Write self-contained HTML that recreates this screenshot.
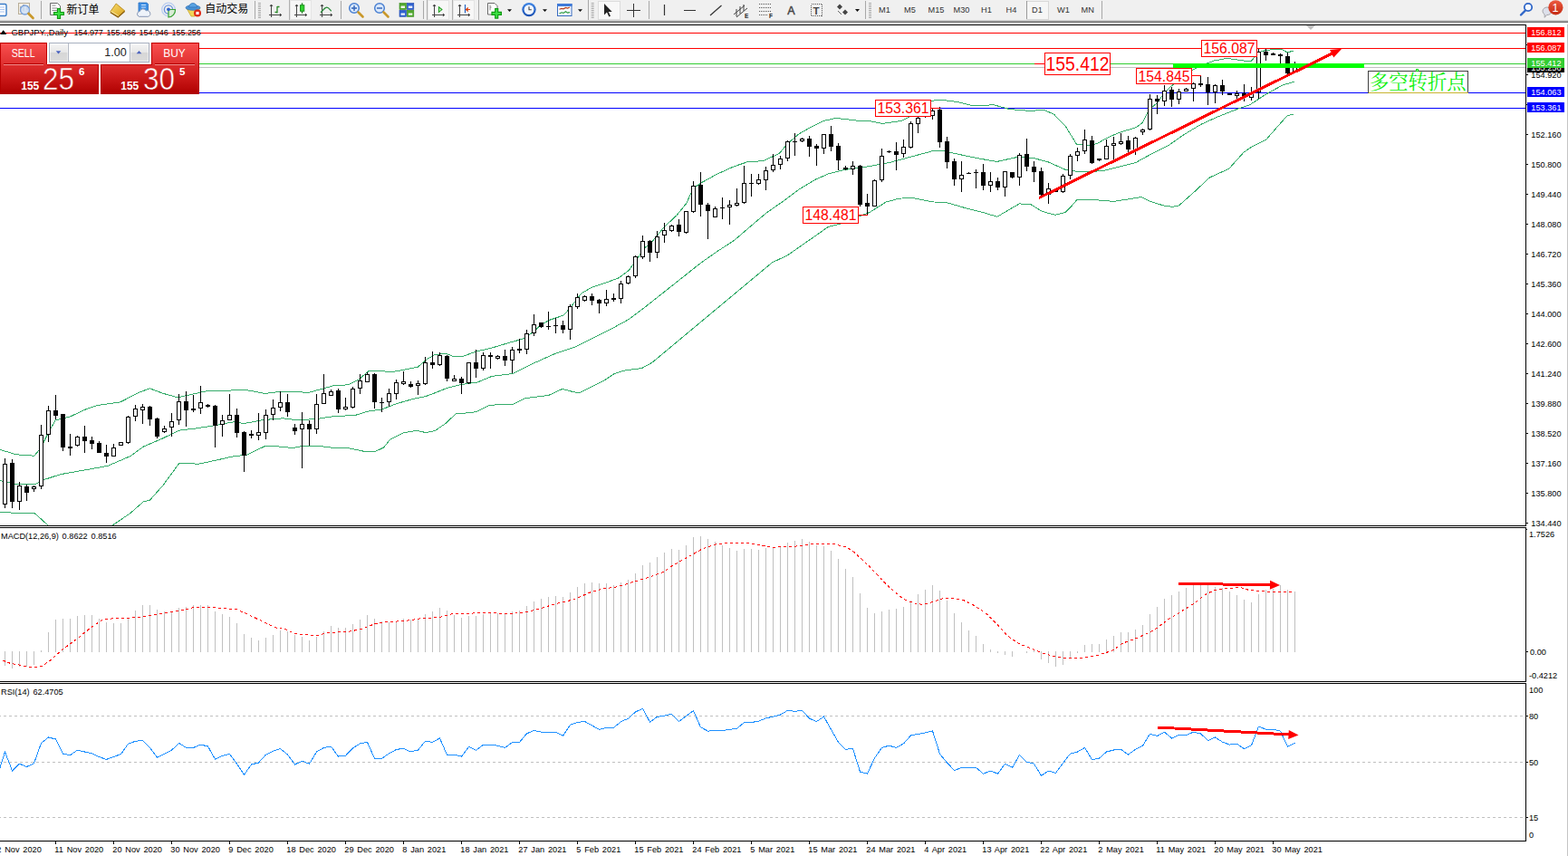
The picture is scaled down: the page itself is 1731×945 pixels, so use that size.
<!DOCTYPE html>
<html><head><meta charset="utf-8"><title>GBPJPY Daily</title>
<style>
html,body{margin:0;padding:0;}
body{width:1731px;height:945px;overflow:hidden;background:#fff;position:relative;font-family:"Liberation Sans",sans-serif;}
</style></head><body>
<svg width="1731" height="945" viewBox="0 0 1731 945" style="position:absolute;left:0;top:0"><defs><clipPath id="cm"><rect x="0" y="28" width="1684" height="552"/></clipPath><clipPath id="cd"><rect x="0" y="583" width="1684" height="169"/></clipPath><clipPath id="cr"><rect x="0" y="755" width="1684" height="173"/></clipPath><clipPath id="ca"><rect x="0" y="929" width="1684" height="16"/></clipPath></defs><g clip-path="url(#cm)" shape-rendering="crispEdges"><rect x="0" y="36" width="1684" height="1" fill="#ff0000"/><rect x="0" y="53" width="1684" height="1" fill="#ff0000"/><rect x="0" y="70" width="1684" height="1" fill="#32cd32"/><rect x="0" y="74" width="1684" height="1" fill="#c0c0c0"/><rect x="0" y="102" width="1684" height="1" fill="#0000ff"/><rect x="0" y="119" width="1684" height="1" fill="#0000ff"/><polyline points="0,496.4 18,501.8 37.8,503.2 45,494.6 54,476.6 61.2,464 77.4,460 93.6,452.3 108,447.4 133.1,443.8 152.9,433.4 165.5,428.9 179.9,434.3 196.1,438.8 212.3,435.2 228.5,431.6 240,431.7 270.6,430.3 292.2,434.4 312,432.1 340.8,433.3 357,429 369.5,425.4 383.9,424.9 396.5,418.6 407.3,409.2 419.9,409.2 430.7,411 446.9,408.1 461.3,405.1 472.1,396.1 480,391.5 492.6,390.3 501.6,393.9 509.7,393.9 525,388.2 541.2,384.6 559.2,379.2 577.2,374.1 588,367 597,358.9 606,353.5 622.1,348.1 629.3,340 642,323.8 652.7,317.5 669,312.1 683.3,306.7 694.1,298.6 701.3,288.7 712.1,273.4 720,266.8 732.6,251.3 747,237.8 757.8,224.4 765,208.2 774,201.9 792,192 810,183.9 824.4,179 842.3,177.6 860.3,169.5 869.3,158.7 881.9,147.9 896.3,139.8 908.9,133.5 923.3,130.4 944.9,133 960,133.6 974.4,136.4 996,133.2 1012.2,125.1 1028.4,111.2 1039.2,110.3 1057.2,112.5 1075.2,117 1096.7,115.7 1114.7,120.6 1136.3,122.4 1152.5,121.5 1163.3,126 1175.9,138.6 1188.5,159.3 1200,160.6 1210.8,158.7 1221.6,152.5 1236,146.2 1254,140.8 1261.2,135.4 1268.4,121 1277.4,113.8 1286.4,101.2 1295.4,93.1 1315.2,77.8 1326,72.4 1340.3,67 1354.7,64.3 1372.7,67 1381.7,67 1388.9,58 1397.9,55.3 1414.1,54 1421.3,58 1428.5,55.8" fill="none" stroke="#34ac6a" stroke-width="1" /><polyline points="0,530.5 16.2,534.1 37.8,535 48.6,529.6 66.6,523.7 93.6,518.9 118.7,514.4 143.9,503.6 158.3,493.1 179.9,483.8 197.9,475.1 215.9,473 240,469.2 259.8,465.4 268.8,467.7 290.4,463.6 312,461.8 326.4,463.6 348,462.7 366,460 392.9,458.2 405.5,454.2 421.7,451.9 437.9,445.6 455.9,440.5 470.3,437.5 480,433.8 494,428.2 509.1,424.5 526.6,422.2 542.9,415.4 566.1,412.5 588.3,401.4 613.1,390.3 634.7,383.1 652.7,374.1 674.3,363.4 694.1,352.6 708.5,341.8 720,332.8 774,290 792,277.4 810,265.7 828,250.4 846,235.1 864,222.6 881.9,209.1 899.9,198.3 914.3,192 932.3,187.5 960,183.6 983.4,179.1 1006.8,172.8 1028.4,167 1041,166.5 1057.2,170.1 1078.7,174.6 1100.3,178.5 1121.9,173.7 1139.9,174.2 1157.9,179.1 1175.9,187.2 1188.5,189.3 1200,190 1218,188.4 1236,183.9 1254,179.4 1272,169.5 1290,160.5 1308,148 1326,137.2 1343.9,129.1 1361.9,121.9 1379.9,115.6 1397.9,103.9 1415.9,94 1428.5,90.4" fill="none" stroke="#34ac6a" stroke-width="1" /><polyline points="0,565.1 18,566.5 37.8,566.2 53.1,580 56,590 120,590 124.1,580 143.9,566.5 158.3,553.9 165.5,552.1 179.9,535.9 197.9,511.3 219.5,512.2 240,507.8 258,503.7 272.4,502.2 292.2,492.7 306.6,492.9 322.8,494.5 335.4,492.3 351.6,492.3 366,494.1 383.9,494.5 401.9,498.3 414.5,498.3 423.5,494.1 430.7,485.1 445.1,478 459.5,475.3 470.3,477.6 480,475.6 491.6,467.8 503.3,456.7 520.7,455.6 526.6,454.1 540.5,447.2 566.1,446.3 580.1,439.6 605.7,436.4 620.9,429.4 633.7,432.9 640,433.4 667.1,420 677.9,412.8 688.7,409.2 708.5,406.5 720,400.2 852.2,290 869.3,281.9 887.3,269.3 901.7,259.4 914.3,250.4 928.7,246.8 945,240 960,234.5 978,223.1 992.4,219.2 1006.8,218.3 1028.4,222.8 1046.4,224 1067.9,230.3 1085.9,234.8 1100.9,239.3 1112.9,232.1 1125.5,224.9 1138.1,225.8 1150.7,233.5 1165.1,237.3 1175.8,234.6 1183,227.4 1189.2,220.3 1208,220.6 1229.5,222.4 1260,217.6 1268.9,222.1 1285,227.1 1294,228.3 1301.2,227.1 1319.1,211.3 1335.2,196.1 1356.7,186.3 1372.8,168.4 1381.8,162.1 1397.9,154 1410.4,139.7 1421.2,127.5 1428.3,126.3" fill="none" stroke="#34ac6a" stroke-width="1" /><rect x="5" y="506" width="1" height="55" fill="#000"/><rect x="3" y="512" width="5" height="45" fill="#000"/><rect x="4" y="513" width="3" height="43" fill="#fff"/><rect x="13" y="507" width="1" height="54" fill="#000"/><rect x="11" y="511" width="5" height="43" fill="#000"/><rect x="21" y="532" width="1" height="31" fill="#000"/><rect x="19" y="536" width="5" height="18" fill="#000"/><rect x="20" y="537" width="3" height="16" fill="#fff"/><rect x="29" y="535" width="1" height="18" fill="#000"/><rect x="27" y="537" width="5" height="7" fill="#000"/><rect x="37" y="536" width="1" height="7" fill="#000"/><rect x="35" y="537" width="5" height="3" fill="#000"/><rect x="36" y="538" width="3" height="1" fill="#fff"/><rect x="45" y="469" width="1" height="71" fill="#000"/><rect x="43" y="480" width="5" height="57" fill="#000"/><rect x="44" y="481" width="3" height="55" fill="#fff"/><rect x="53" y="448" width="1" height="40" fill="#000"/><rect x="51" y="453" width="5" height="27" fill="#000"/><rect x="52" y="454" width="3" height="25" fill="#fff"/><rect x="61" y="436" width="1" height="27" fill="#000"/><rect x="59" y="453" width="5" height="6" fill="#000"/><rect x="69" y="457" width="1" height="41" fill="#000"/><rect x="67" y="457" width="5" height="37" fill="#000"/><rect x="77" y="479" width="1" height="24" fill="#000"/><rect x="75" y="493" width="5" height="2" fill="#000"/><rect x="85" y="481" width="1" height="12" fill="#000"/><rect x="83" y="482" width="5" height="10" fill="#000"/><rect x="84" y="483" width="3" height="8" fill="#fff"/><rect x="93" y="470" width="1" height="30" fill="#000"/><rect x="91" y="482" width="5" height="5" fill="#000"/><rect x="101" y="482" width="1" height="14" fill="#000"/><rect x="99" y="486" width="5" height="4" fill="#000"/><rect x="109" y="487" width="1" height="13" fill="#000"/><rect x="107" y="489" width="5" height="11" fill="#000"/><rect x="117" y="491" width="1" height="20" fill="#000"/><rect x="115" y="500" width="5" height="4" fill="#000"/><rect x="125" y="490" width="1" height="14" fill="#000"/><rect x="123" y="494" width="5" height="10" fill="#000"/><rect x="124" y="495" width="3" height="8" fill="#fff"/><rect x="133" y="488" width="1" height="4" fill="#000"/><rect x="131" y="488" width="5" height="4" fill="#000"/><rect x="132" y="489" width="3" height="2" fill="#fff"/><rect x="141" y="459" width="1" height="31" fill="#000"/><rect x="139" y="460" width="5" height="29" fill="#000"/><rect x="140" y="461" width="3" height="27" fill="#fff"/><rect x="149" y="447" width="1" height="18" fill="#000"/><rect x="147" y="451" width="5" height="9" fill="#000"/><rect x="148" y="452" width="3" height="7" fill="#fff"/><rect x="157" y="446" width="1" height="22" fill="#000"/><rect x="155" y="449" width="5" height="4" fill="#000"/><rect x="156" y="450" width="3" height="2" fill="#fff"/><rect x="165" y="448" width="1" height="22" fill="#000"/><rect x="163" y="449" width="5" height="14" fill="#000"/><rect x="173" y="461" width="1" height="23" fill="#000"/><rect x="171" y="462" width="5" height="20" fill="#000"/><rect x="181" y="470" width="1" height="8" fill="#000"/><rect x="179" y="473" width="5" height="4" fill="#000"/><rect x="180" y="474" width="3" height="2" fill="#fff"/><rect x="189" y="456" width="1" height="26" fill="#000"/><rect x="187" y="465" width="5" height="7" fill="#000"/><rect x="188" y="466" width="3" height="5" fill="#fff"/><rect x="197" y="435" width="1" height="34" fill="#000"/><rect x="195" y="443" width="5" height="21" fill="#000"/><rect x="196" y="444" width="3" height="19" fill="#fff"/><rect x="205" y="432" width="1" height="39" fill="#000"/><rect x="203" y="443" width="5" height="10" fill="#000"/><rect x="213" y="436" width="1" height="19" fill="#000"/><rect x="211" y="451" width="5" height="2" fill="#000"/><rect x="221" y="426" width="1" height="31" fill="#000"/><rect x="219" y="444" width="5" height="7" fill="#000"/><rect x="220" y="445" width="3" height="5" fill="#fff"/><rect x="229" y="446" width="1" height="4" fill="#000"/><rect x="227" y="447" width="5" height="2" fill="#000"/><rect x="237" y="447" width="1" height="47" fill="#000"/><rect x="235" y="448" width="5" height="22" fill="#000"/><rect x="245" y="458" width="1" height="24" fill="#000"/><rect x="243" y="464" width="5" height="5" fill="#000"/><rect x="244" y="465" width="3" height="3" fill="#fff"/><rect x="253" y="435" width="1" height="29" fill="#000"/><rect x="251" y="458" width="5" height="6" fill="#000"/><rect x="252" y="459" width="3" height="4" fill="#fff"/><rect x="261" y="451" width="1" height="32" fill="#000"/><rect x="259" y="458" width="5" height="20" fill="#000"/><rect x="269" y="476" width="1" height="45" fill="#000"/><rect x="267" y="477" width="5" height="26" fill="#000"/><rect x="277" y="475" width="1" height="9" fill="#000"/><rect x="275" y="479" width="5" height="2" fill="#000"/><rect x="285" y="456" width="1" height="30" fill="#000"/><rect x="283" y="477" width="5" height="4" fill="#000"/><rect x="284" y="478" width="3" height="2" fill="#fff"/><rect x="293" y="452" width="1" height="33" fill="#000"/><rect x="291" y="458" width="5" height="20" fill="#000"/><rect x="292" y="459" width="3" height="18" fill="#fff"/><rect x="301" y="441" width="1" height="23" fill="#000"/><rect x="299" y="450" width="5" height="8" fill="#000"/><rect x="300" y="451" width="3" height="6" fill="#fff"/><rect x="309" y="432" width="1" height="22" fill="#000"/><rect x="307" y="444" width="5" height="6" fill="#000"/><rect x="308" y="445" width="3" height="4" fill="#fff"/><rect x="317" y="435" width="1" height="25" fill="#000"/><rect x="315" y="444" width="5" height="11" fill="#000"/><rect x="325" y="468" width="1" height="12" fill="#000"/><rect x="323" y="472" width="5" height="4" fill="#000"/><rect x="333" y="455" width="1" height="62" fill="#000"/><rect x="331" y="468" width="5" height="6" fill="#000"/><rect x="332" y="469" width="3" height="4" fill="#fff"/><rect x="341" y="464" width="1" height="28" fill="#000"/><rect x="339" y="468" width="5" height="6" fill="#000"/><rect x="349" y="435" width="1" height="44" fill="#000"/><rect x="347" y="446" width="5" height="28" fill="#000"/><rect x="348" y="447" width="3" height="26" fill="#fff"/><rect x="357" y="413" width="1" height="33" fill="#000"/><rect x="355" y="434" width="5" height="12" fill="#000"/><rect x="356" y="435" width="3" height="10" fill="#fff"/><rect x="365" y="430" width="1" height="7" fill="#000"/><rect x="363" y="432" width="5" height="5" fill="#000"/><rect x="364" y="433" width="3" height="3" fill="#fff"/><rect x="373" y="429" width="1" height="27" fill="#000"/><rect x="371" y="431" width="5" height="21" fill="#000"/><rect x="381" y="439" width="1" height="14" fill="#000"/><rect x="379" y="449" width="5" height="3" fill="#000"/><rect x="380" y="450" width="3" height="1" fill="#fff"/><rect x="389" y="427" width="1" height="24" fill="#000"/><rect x="387" y="429" width="5" height="21" fill="#000"/><rect x="388" y="430" width="3" height="19" fill="#fff"/><rect x="397" y="413" width="1" height="22" fill="#000"/><rect x="395" y="420" width="5" height="9" fill="#000"/><rect x="396" y="421" width="3" height="7" fill="#fff"/><rect x="405" y="411" width="1" height="11" fill="#000"/><rect x="403" y="413" width="5" height="9" fill="#000"/><rect x="404" y="414" width="3" height="7" fill="#fff"/><rect x="413" y="412" width="1" height="39" fill="#000"/><rect x="411" y="413" width="5" height="31" fill="#000"/><rect x="421" y="439" width="1" height="16" fill="#000"/><rect x="419" y="444" width="5" height="1" fill="#000"/><rect x="429" y="429" width="1" height="20" fill="#000"/><rect x="427" y="434" width="5" height="10" fill="#000"/><rect x="428" y="435" width="3" height="8" fill="#fff"/><rect x="437" y="419" width="1" height="22" fill="#000"/><rect x="435" y="422" width="5" height="13" fill="#000"/><rect x="436" y="423" width="3" height="11" fill="#fff"/><rect x="445" y="410" width="1" height="15" fill="#000"/><rect x="443" y="421" width="5" height="3" fill="#000"/><rect x="444" y="422" width="3" height="1" fill="#fff"/><rect x="453" y="421" width="1" height="7" fill="#000"/><rect x="451" y="424" width="5" height="3" fill="#000"/><rect x="461" y="420" width="1" height="16" fill="#000"/><rect x="459" y="423" width="5" height="3" fill="#000"/><rect x="460" y="424" width="3" height="1" fill="#fff"/><rect x="469" y="394" width="1" height="31" fill="#000"/><rect x="467" y="400" width="5" height="24" fill="#000"/><rect x="468" y="401" width="3" height="22" fill="#fff"/><rect x="477" y="388" width="1" height="19" fill="#000"/><rect x="475" y="400" width="5" height="3" fill="#000"/><rect x="485" y="389" width="1" height="15" fill="#000"/><rect x="483" y="392" width="5" height="11" fill="#000"/><rect x="484" y="393" width="3" height="9" fill="#fff"/><rect x="493" y="392" width="1" height="29" fill="#000"/><rect x="491" y="393" width="5" height="25" fill="#000"/><rect x="501" y="414" width="1" height="7" fill="#000"/><rect x="499" y="418" width="5" height="3" fill="#000"/><rect x="500" y="419" width="3" height="1" fill="#fff"/><rect x="509" y="416" width="1" height="19" fill="#000"/><rect x="507" y="418" width="5" height="5" fill="#000"/><rect x="517" y="400" width="1" height="24" fill="#000"/><rect x="515" y="400" width="5" height="23" fill="#000"/><rect x="516" y="401" width="3" height="21" fill="#fff"/><rect x="525" y="386" width="1" height="31" fill="#000"/><rect x="523" y="400" width="5" height="7" fill="#000"/><rect x="533" y="389" width="1" height="20" fill="#000"/><rect x="531" y="392" width="5" height="15" fill="#000"/><rect x="532" y="393" width="3" height="13" fill="#fff"/><rect x="541" y="389" width="1" height="18" fill="#000"/><rect x="539" y="392" width="5" height="2" fill="#000"/><rect x="549" y="392" width="1" height="5" fill="#000"/><rect x="547" y="393" width="5" height="3" fill="#000"/><rect x="548" y="394" width="3" height="1" fill="#fff"/><rect x="557" y="386" width="1" height="18" fill="#000"/><rect x="555" y="393" width="5" height="5" fill="#000"/><rect x="565" y="383" width="1" height="29" fill="#000"/><rect x="563" y="386" width="5" height="12" fill="#000"/><rect x="564" y="387" width="3" height="10" fill="#fff"/><rect x="573" y="374" width="1" height="16" fill="#000"/><rect x="571" y="385" width="5" height="2" fill="#000"/><rect x="581" y="364" width="1" height="27" fill="#000"/><rect x="579" y="368" width="5" height="18" fill="#000"/><rect x="580" y="369" width="3" height="16" fill="#fff"/><rect x="589" y="347" width="1" height="24" fill="#000"/><rect x="587" y="358" width="5" height="10" fill="#000"/><rect x="588" y="359" width="3" height="8" fill="#fff"/><rect x="597" y="356" width="1" height="6" fill="#000"/><rect x="595" y="356" width="5" height="5" fill="#000"/><rect x="605" y="344" width="1" height="20" fill="#000"/><rect x="603" y="360" width="5" height="1" fill="#000"/><rect x="613" y="351" width="1" height="17" fill="#000"/><rect x="611" y="359" width="5" height="1" fill="#000"/><rect x="621" y="354" width="1" height="14" fill="#000"/><rect x="619" y="359" width="5" height="5" fill="#000"/><rect x="629" y="336" width="1" height="39" fill="#000"/><rect x="627" y="338" width="5" height="26" fill="#000"/><rect x="628" y="339" width="3" height="24" fill="#fff"/><rect x="637" y="324" width="1" height="17" fill="#000"/><rect x="635" y="328" width="5" height="11" fill="#000"/><rect x="636" y="329" width="3" height="9" fill="#fff"/><rect x="645" y="326" width="1" height="7" fill="#000"/><rect x="643" y="327" width="5" height="5" fill="#000"/><rect x="644" y="328" width="3" height="3" fill="#fff"/><rect x="653" y="324" width="1" height="13" fill="#000"/><rect x="651" y="327" width="5" height="5" fill="#000"/><rect x="661" y="330" width="1" height="16" fill="#000"/><rect x="659" y="331" width="5" height="4" fill="#000"/><rect x="669" y="320" width="1" height="18" fill="#000"/><rect x="667" y="330" width="5" height="5" fill="#000"/><rect x="668" y="331" width="3" height="3" fill="#fff"/><rect x="677" y="324" width="1" height="9" fill="#000"/><rect x="675" y="329" width="5" height="2" fill="#000"/><rect x="685" y="310" width="1" height="25" fill="#000"/><rect x="683" y="313" width="5" height="17" fill="#000"/><rect x="684" y="314" width="3" height="15" fill="#fff"/><rect x="693" y="304" width="1" height="10" fill="#000"/><rect x="691" y="305" width="5" height="8" fill="#000"/><rect x="692" y="306" width="3" height="6" fill="#fff"/><rect x="701" y="282" width="1" height="25" fill="#000"/><rect x="699" y="283" width="5" height="22" fill="#000"/><rect x="700" y="284" width="3" height="20" fill="#fff"/><rect x="709" y="260" width="1" height="26" fill="#000"/><rect x="707" y="266" width="5" height="18" fill="#000"/><rect x="708" y="267" width="3" height="16" fill="#fff"/><rect x="717" y="265" width="1" height="24" fill="#000"/><rect x="715" y="266" width="5" height="13" fill="#000"/><rect x="725" y="255" width="1" height="30" fill="#000"/><rect x="723" y="261" width="5" height="18" fill="#000"/><rect x="724" y="262" width="3" height="16" fill="#fff"/><rect x="733" y="246" width="1" height="22" fill="#000"/><rect x="731" y="254" width="5" height="6" fill="#000"/><rect x="732" y="255" width="3" height="4" fill="#fff"/><rect x="741" y="248" width="1" height="8" fill="#000"/><rect x="739" y="249" width="5" height="6" fill="#000"/><rect x="740" y="250" width="3" height="4" fill="#fff"/><rect x="749" y="242" width="1" height="19" fill="#000"/><rect x="747" y="248" width="5" height="8" fill="#000"/><rect x="757" y="233" width="1" height="25" fill="#000"/><rect x="755" y="233" width="5" height="24" fill="#000"/><rect x="756" y="234" width="3" height="22" fill="#fff"/><rect x="765" y="200" width="1" height="35" fill="#000"/><rect x="763" y="205" width="5" height="29" fill="#000"/><rect x="764" y="206" width="3" height="27" fill="#fff"/><rect x="773" y="190" width="1" height="49" fill="#000"/><rect x="771" y="204" width="5" height="22" fill="#000"/><rect x="781" y="224" width="1" height="40" fill="#000"/><rect x="779" y="226" width="5" height="7" fill="#000"/><rect x="789" y="228" width="1" height="12" fill="#000"/><rect x="787" y="230" width="5" height="10" fill="#000"/><rect x="788" y="231" width="3" height="8" fill="#fff"/><rect x="797" y="218" width="1" height="24" fill="#000"/><rect x="795" y="229" width="5" height="1" fill="#000"/><rect x="805" y="221" width="1" height="27" fill="#000"/><rect x="803" y="226" width="5" height="3" fill="#000"/><rect x="804" y="227" width="3" height="1" fill="#fff"/><rect x="813" y="208" width="1" height="20" fill="#000"/><rect x="811" y="224" width="5" height="3" fill="#000"/><rect x="812" y="225" width="3" height="1" fill="#fff"/><rect x="821" y="183" width="1" height="42" fill="#000"/><rect x="819" y="202" width="5" height="22" fill="#000"/><rect x="820" y="203" width="3" height="20" fill="#fff"/><rect x="829" y="192" width="1" height="25" fill="#000"/><rect x="827" y="202" width="5" height="1" fill="#000"/><rect x="837" y="192" width="1" height="12" fill="#000"/><rect x="835" y="198" width="5" height="5" fill="#000"/><rect x="836" y="199" width="3" height="3" fill="#fff"/><rect x="845" y="184" width="1" height="26" fill="#000"/><rect x="843" y="188" width="5" height="11" fill="#000"/><rect x="844" y="189" width="3" height="9" fill="#fff"/><rect x="853" y="170" width="1" height="20" fill="#000"/><rect x="851" y="182" width="5" height="6" fill="#000"/><rect x="852" y="183" width="3" height="4" fill="#fff"/><rect x="861" y="172" width="1" height="15" fill="#000"/><rect x="859" y="175" width="5" height="7" fill="#000"/><rect x="860" y="176" width="3" height="5" fill="#fff"/><rect x="869" y="155" width="1" height="23" fill="#000"/><rect x="867" y="156" width="5" height="19" fill="#000"/><rect x="868" y="157" width="3" height="17" fill="#fff"/><rect x="877" y="147" width="1" height="25" fill="#000"/><rect x="875" y="156" width="5" height="1" fill="#000"/><rect x="885" y="152" width="1" height="5" fill="#000"/><rect x="883" y="153" width="5" height="3" fill="#000"/><rect x="884" y="154" width="3" height="1" fill="#fff"/><rect x="893" y="150" width="1" height="23" fill="#000"/><rect x="891" y="153" width="5" height="9" fill="#000"/><rect x="901" y="159" width="1" height="24" fill="#000"/><rect x="899" y="161" width="5" height="3" fill="#000"/><rect x="909" y="148" width="1" height="22" fill="#000"/><rect x="907" y="148" width="5" height="16" fill="#000"/><rect x="908" y="149" width="3" height="14" fill="#fff"/><rect x="917" y="139" width="1" height="28" fill="#000"/><rect x="915" y="148" width="5" height="14" fill="#000"/><rect x="925" y="158" width="1" height="30" fill="#000"/><rect x="923" y="161" width="5" height="16" fill="#000"/><rect x="933" y="183" width="1" height="5" fill="#000"/><rect x="931" y="185" width="5" height="2" fill="#000"/><rect x="941" y="178" width="1" height="15" fill="#000"/><rect x="939" y="183" width="5" height="4" fill="#000"/><rect x="940" y="184" width="3" height="2" fill="#fff"/><rect x="949" y="182" width="1" height="46" fill="#000"/><rect x="947" y="183" width="5" height="43" fill="#000"/><rect x="957" y="214" width="1" height="24" fill="#000"/><rect x="955" y="224" width="5" height="4" fill="#000"/><rect x="965" y="198" width="1" height="30" fill="#000"/><rect x="963" y="199" width="5" height="29" fill="#000"/><rect x="964" y="200" width="3" height="27" fill="#fff"/><rect x="973" y="164" width="1" height="37" fill="#000"/><rect x="971" y="172" width="5" height="27" fill="#000"/><rect x="972" y="173" width="3" height="25" fill="#fff"/><rect x="981" y="166" width="1" height="3" fill="#000"/><rect x="979" y="167" width="5" height="1" fill="#000"/><rect x="989" y="157" width="1" height="31" fill="#000"/><rect x="987" y="167" width="5" height="4" fill="#000"/><rect x="997" y="154" width="1" height="20" fill="#000"/><rect x="995" y="162" width="5" height="8" fill="#000"/><rect x="996" y="163" width="3" height="6" fill="#fff"/><rect x="1005" y="134" width="1" height="30" fill="#000"/><rect x="1003" y="136" width="5" height="27" fill="#000"/><rect x="1004" y="137" width="3" height="25" fill="#fff"/><rect x="1013" y="127" width="1" height="20" fill="#000"/><rect x="1011" y="130" width="5" height="7" fill="#000"/><rect x="1012" y="131" width="3" height="5" fill="#fff"/><rect x="1021" y="127" width="1" height="3" fill="#000"/><rect x="1019" y="128" width="5" height="1" fill="#000"/><rect x="1029" y="120" width="1" height="12" fill="#000"/><rect x="1027" y="122" width="5" height="6" fill="#000"/><rect x="1028" y="123" width="3" height="4" fill="#fff"/><rect x="1037" y="118" width="1" height="45" fill="#000"/><rect x="1035" y="121" width="5" height="36" fill="#000"/><rect x="1045" y="151" width="1" height="35" fill="#000"/><rect x="1043" y="156" width="5" height="23" fill="#000"/><rect x="1053" y="175" width="1" height="30" fill="#000"/><rect x="1051" y="178" width="5" height="20" fill="#000"/><rect x="1061" y="178" width="1" height="34" fill="#000"/><rect x="1059" y="193" width="5" height="5" fill="#000"/><rect x="1060" y="194" width="3" height="3" fill="#fff"/><rect x="1069" y="190" width="1" height="2" fill="#000"/><rect x="1067" y="191" width="5" height="1" fill="#000"/><rect x="1077" y="187" width="1" height="21" fill="#000"/><rect x="1075" y="190" width="5" height="1" fill="#000"/><rect x="1085" y="181" width="1" height="29" fill="#000"/><rect x="1083" y="190" width="5" height="15" fill="#000"/><rect x="1093" y="190" width="1" height="22" fill="#000"/><rect x="1091" y="200" width="5" height="5" fill="#000"/><rect x="1092" y="201" width="3" height="3" fill="#fff"/><rect x="1101" y="196" width="1" height="14" fill="#000"/><rect x="1099" y="200" width="5" height="7" fill="#000"/><rect x="1109" y="189" width="1" height="28" fill="#000"/><rect x="1107" y="189" width="5" height="18" fill="#000"/><rect x="1108" y="190" width="3" height="16" fill="#fff"/><rect x="1117" y="190" width="1" height="7" fill="#000"/><rect x="1115" y="190" width="5" height="6" fill="#000"/><rect x="1125" y="169" width="1" height="36" fill="#000"/><rect x="1123" y="171" width="5" height="25" fill="#000"/><rect x="1124" y="172" width="3" height="23" fill="#fff"/><rect x="1133" y="153" width="1" height="36" fill="#000"/><rect x="1131" y="170" width="5" height="14" fill="#000"/><rect x="1141" y="178" width="1" height="23" fill="#000"/><rect x="1139" y="184" width="5" height="6" fill="#000"/><rect x="1149" y="185" width="1" height="31" fill="#000"/><rect x="1147" y="189" width="5" height="26" fill="#000"/><rect x="1157" y="202" width="1" height="23" fill="#000"/><rect x="1155" y="208" width="5" height="7" fill="#000"/><rect x="1156" y="209" width="3" height="5" fill="#fff"/><rect x="1165" y="210" width="1" height="2" fill="#000"/><rect x="1163" y="210" width="5" height="2" fill="#000"/><rect x="1173" y="192" width="1" height="21" fill="#000"/><rect x="1171" y="194" width="5" height="18" fill="#000"/><rect x="1172" y="195" width="3" height="16" fill="#fff"/><rect x="1181" y="170" width="1" height="28" fill="#000"/><rect x="1179" y="172" width="5" height="22" fill="#000"/><rect x="1180" y="173" width="3" height="20" fill="#fff"/><rect x="1189" y="163" width="1" height="15" fill="#000"/><rect x="1187" y="167" width="5" height="5" fill="#000"/><rect x="1188" y="168" width="3" height="3" fill="#fff"/><rect x="1197" y="143" width="1" height="27" fill="#000"/><rect x="1195" y="154" width="5" height="13" fill="#000"/><rect x="1196" y="155" width="3" height="11" fill="#fff"/><rect x="1205" y="150" width="1" height="31" fill="#000"/><rect x="1203" y="155" width="5" height="25" fill="#000"/><rect x="1213" y="175" width="1" height="3" fill="#000"/><rect x="1211" y="175" width="5" height="2" fill="#000"/><rect x="1221" y="154" width="1" height="22" fill="#000"/><rect x="1219" y="161" width="5" height="15" fill="#000"/><rect x="1220" y="162" width="3" height="13" fill="#fff"/><rect x="1229" y="151" width="1" height="25" fill="#000"/><rect x="1227" y="158" width="5" height="3" fill="#000"/><rect x="1228" y="159" width="3" height="1" fill="#fff"/><rect x="1237" y="147" width="1" height="13" fill="#000"/><rect x="1235" y="156" width="5" height="3" fill="#000"/><rect x="1236" y="157" width="3" height="1" fill="#fff"/><rect x="1245" y="150" width="1" height="18" fill="#000"/><rect x="1243" y="155" width="5" height="10" fill="#000"/><rect x="1253" y="151" width="1" height="20" fill="#000"/><rect x="1251" y="152" width="5" height="14" fill="#000"/><rect x="1252" y="153" width="3" height="12" fill="#fff"/><rect x="1261" y="142" width="1" height="7" fill="#000"/><rect x="1259" y="143" width="5" height="3" fill="#000"/><rect x="1260" y="144" width="3" height="1" fill="#fff"/><rect x="1269" y="104" width="1" height="40" fill="#000"/><rect x="1267" y="109" width="5" height="34" fill="#000"/><rect x="1268" y="110" width="3" height="32" fill="#fff"/><rect x="1277" y="105" width="1" height="21" fill="#000"/><rect x="1275" y="109" width="5" height="3" fill="#000"/><rect x="1285" y="94" width="1" height="23" fill="#000"/><rect x="1283" y="100" width="5" height="12" fill="#000"/><rect x="1284" y="101" width="3" height="10" fill="#fff"/><rect x="1293" y="96" width="1" height="22" fill="#000"/><rect x="1291" y="99" width="5" height="11" fill="#000"/><rect x="1301" y="98" width="1" height="17" fill="#000"/><rect x="1299" y="101" width="5" height="9" fill="#000"/><rect x="1300" y="102" width="3" height="7" fill="#fff"/><rect x="1309" y="97" width="1" height="4" fill="#000"/><rect x="1307" y="98" width="5" height="3" fill="#000"/><rect x="1308" y="99" width="3" height="1" fill="#fff"/><rect x="1317" y="91" width="1" height="21" fill="#000"/><rect x="1315" y="92" width="5" height="6" fill="#000"/><rect x="1316" y="93" width="3" height="4" fill="#fff"/><rect x="1325" y="84" width="1" height="12" fill="#000"/><rect x="1323" y="92" width="5" height="2" fill="#000"/><rect x="1333" y="85" width="1" height="31" fill="#000"/><rect x="1331" y="93" width="5" height="9" fill="#000"/><rect x="1341" y="93" width="1" height="21" fill="#000"/><rect x="1339" y="94" width="5" height="8" fill="#000"/><rect x="1340" y="95" width="3" height="6" fill="#fff"/><rect x="1349" y="88" width="1" height="17" fill="#000"/><rect x="1347" y="94" width="5" height="7" fill="#000"/><rect x="1357" y="103" width="1" height="2" fill="#000"/><rect x="1355" y="103" width="5" height="2" fill="#000"/><rect x="1365" y="100" width="1" height="9" fill="#000"/><rect x="1363" y="103" width="5" height="3" fill="#000"/><rect x="1364" y="104" width="3" height="1" fill="#fff"/><rect x="1373" y="93" width="1" height="19" fill="#000"/><rect x="1371" y="103" width="5" height="3" fill="#000"/><rect x="1381" y="96" width="1" height="15" fill="#000"/><rect x="1379" y="103" width="5" height="5" fill="#000"/><rect x="1380" y="104" width="3" height="3" fill="#fff"/><rect x="1389" y="54" width="1" height="55" fill="#000"/><rect x="1387" y="57" width="5" height="45" fill="#000"/><rect x="1388" y="58" width="3" height="43" fill="#fff"/><rect x="1397" y="54" width="1" height="13" fill="#000"/><rect x="1395" y="57" width="5" height="4" fill="#000"/><rect x="1405" y="58" width="1" height="3" fill="#000"/><rect x="1403" y="59" width="5" height="2" fill="#000"/><rect x="1413" y="59" width="1" height="12" fill="#000"/><rect x="1411" y="60" width="5" height="2" fill="#000"/><rect x="1421" y="58" width="1" height="24" fill="#000"/><rect x="1419" y="62" width="5" height="19" fill="#000"/><rect x="1429" y="68" width="1" height="13" fill="#000"/><rect x="1427" y="73" width="5" height="7" fill="#000"/><rect x="1428" y="74" width="3" height="5" fill="#fff"/></g><g clip-path="url(#cd)" shape-rendering="crispEdges"><rect x="5" y="719" width="1" height="16" fill="#c0c0c0"/><rect x="13" y="719" width="1" height="19" fill="#c0c0c0"/><rect x="21" y="719" width="1" height="17" fill="#c0c0c0"/><rect x="29" y="719" width="1" height="17" fill="#c0c0c0"/><rect x="37" y="719" width="1" height="15" fill="#c0c0c0"/><rect x="45" y="718" width="1" height="2" fill="#c0c0c0"/><rect x="53" y="698" width="1" height="22" fill="#c0c0c0"/><rect x="61" y="684" width="1" height="36" fill="#c0c0c0"/><rect x="69" y="683" width="1" height="37" fill="#c0c0c0"/><rect x="77" y="683" width="1" height="37" fill="#c0c0c0"/><rect x="85" y="680" width="1" height="40" fill="#c0c0c0"/><rect x="93" y="679" width="1" height="41" fill="#c0c0c0"/><rect x="101" y="679" width="1" height="41" fill="#c0c0c0"/><rect x="109" y="683" width="1" height="37" fill="#c0c0c0"/><rect x="117" y="687" width="1" height="33" fill="#c0c0c0"/><rect x="125" y="688" width="1" height="32" fill="#c0c0c0"/><rect x="133" y="688" width="1" height="32" fill="#c0c0c0"/><rect x="141" y="683" width="1" height="37" fill="#c0c0c0"/><rect x="149" y="674" width="1" height="46" fill="#c0c0c0"/><rect x="157" y="668" width="1" height="52" fill="#c0c0c0"/><rect x="165" y="668" width="1" height="52" fill="#c0c0c0"/><rect x="173" y="673" width="1" height="47" fill="#c0c0c0"/><rect x="181" y="675" width="1" height="45" fill="#c0c0c0"/><rect x="189" y="675" width="1" height="45" fill="#c0c0c0"/><rect x="197" y="671" width="1" height="49" fill="#c0c0c0"/><rect x="205" y="670" width="1" height="50" fill="#c0c0c0"/><rect x="213" y="668" width="1" height="52" fill="#c0c0c0"/><rect x="221" y="668" width="1" height="52" fill="#c0c0c0"/><rect x="229" y="668" width="1" height="52" fill="#c0c0c0"/><rect x="237" y="675" width="1" height="45" fill="#c0c0c0"/><rect x="245" y="678" width="1" height="42" fill="#c0c0c0"/><rect x="253" y="681" width="1" height="39" fill="#c0c0c0"/><rect x="261" y="688" width="1" height="32" fill="#c0c0c0"/><rect x="269" y="700" width="1" height="20" fill="#c0c0c0"/><rect x="277" y="704" width="1" height="16" fill="#c0c0c0"/><rect x="285" y="707" width="1" height="13" fill="#c0c0c0"/><rect x="293" y="704" width="1" height="16" fill="#c0c0c0"/><rect x="301" y="701" width="1" height="19" fill="#c0c0c0"/><rect x="309" y="696" width="1" height="24" fill="#c0c0c0"/><rect x="317" y="697" width="1" height="23" fill="#c0c0c0"/><rect x="325" y="701" width="1" height="19" fill="#c0c0c0"/><rect x="333" y="703" width="1" height="17" fill="#c0c0c0"/><rect x="341" y="707" width="1" height="13" fill="#c0c0c0"/><rect x="349" y="703" width="1" height="17" fill="#c0c0c0"/><rect x="357" y="697" width="1" height="23" fill="#c0c0c0"/><rect x="365" y="691" width="1" height="29" fill="#c0c0c0"/><rect x="373" y="693" width="1" height="27" fill="#c0c0c0"/><rect x="381" y="693" width="1" height="27" fill="#c0c0c0"/><rect x="389" y="689" width="1" height="31" fill="#c0c0c0"/><rect x="397" y="684" width="1" height="36" fill="#c0c0c0"/><rect x="405" y="679" width="1" height="41" fill="#c0c0c0"/><rect x="413" y="683" width="1" height="37" fill="#c0c0c0"/><rect x="421" y="686" width="1" height="34" fill="#c0c0c0"/><rect x="429" y="687" width="1" height="33" fill="#c0c0c0"/><rect x="437" y="686" width="1" height="34" fill="#c0c0c0"/><rect x="445" y="683" width="1" height="37" fill="#c0c0c0"/><rect x="453" y="684" width="1" height="36" fill="#c0c0c0"/><rect x="461" y="684" width="1" height="36" fill="#c0c0c0"/><rect x="469" y="678" width="1" height="42" fill="#c0c0c0"/><rect x="477" y="675" width="1" height="45" fill="#c0c0c0"/><rect x="485" y="671" width="1" height="49" fill="#c0c0c0"/><rect x="493" y="674" width="1" height="46" fill="#c0c0c0"/><rect x="501" y="679" width="1" height="41" fill="#c0c0c0"/><rect x="509" y="682" width="1" height="38" fill="#c0c0c0"/><rect x="517" y="680" width="1" height="40" fill="#c0c0c0"/><rect x="525" y="680" width="1" height="40" fill="#c0c0c0"/><rect x="533" y="678" width="1" height="42" fill="#c0c0c0"/><rect x="541" y="677" width="1" height="43" fill="#c0c0c0"/><rect x="549" y="677" width="1" height="43" fill="#c0c0c0"/><rect x="557" y="677" width="1" height="43" fill="#c0c0c0"/><rect x="565" y="675" width="1" height="45" fill="#c0c0c0"/><rect x="573" y="674" width="1" height="46" fill="#c0c0c0"/><rect x="581" y="669" width="1" height="51" fill="#c0c0c0"/><rect x="589" y="664" width="1" height="56" fill="#c0c0c0"/><rect x="597" y="661" width="1" height="59" fill="#c0c0c0"/><rect x="605" y="659" width="1" height="61" fill="#c0c0c0"/><rect x="613" y="658" width="1" height="62" fill="#c0c0c0"/><rect x="621" y="659" width="1" height="61" fill="#c0c0c0"/><rect x="629" y="654" width="1" height="66" fill="#c0c0c0"/><rect x="637" y="648" width="1" height="72" fill="#c0c0c0"/><rect x="645" y="644" width="1" height="76" fill="#c0c0c0"/><rect x="653" y="643" width="1" height="77" fill="#c0c0c0"/><rect x="661" y="644" width="1" height="76" fill="#c0c0c0"/><rect x="669" y="644" width="1" height="76" fill="#c0c0c0"/><rect x="677" y="646" width="1" height="74" fill="#c0c0c0"/><rect x="685" y="643" width="1" height="77" fill="#c0c0c0"/><rect x="693" y="640" width="1" height="80" fill="#c0c0c0"/><rect x="701" y="633" width="1" height="87" fill="#c0c0c0"/><rect x="709" y="624" width="1" height="96" fill="#c0c0c0"/><rect x="717" y="621" width="1" height="99" fill="#c0c0c0"/><rect x="725" y="615" width="1" height="105" fill="#c0c0c0"/><rect x="733" y="610" width="1" height="110" fill="#c0c0c0"/><rect x="741" y="606" width="1" height="114" fill="#c0c0c0"/><rect x="749" y="607" width="1" height="113" fill="#c0c0c0"/><rect x="757" y="602" width="1" height="118" fill="#c0c0c0"/><rect x="765" y="593" width="1" height="127" fill="#c0c0c0"/><rect x="773" y="592" width="1" height="128" fill="#c0c0c0"/><rect x="781" y="595" width="1" height="125" fill="#c0c0c0"/><rect x="789" y="598" width="1" height="122" fill="#c0c0c0"/><rect x="797" y="602" width="1" height="118" fill="#c0c0c0"/><rect x="805" y="605" width="1" height="115" fill="#c0c0c0"/><rect x="813" y="608" width="1" height="112" fill="#c0c0c0"/><rect x="821" y="606" width="1" height="114" fill="#c0c0c0"/><rect x="829" y="606" width="1" height="114" fill="#c0c0c0"/><rect x="837" y="607" width="1" height="113" fill="#c0c0c0"/><rect x="845" y="605" width="1" height="115" fill="#c0c0c0"/><rect x="853" y="604" width="1" height="116" fill="#c0c0c0"/><rect x="861" y="603" width="1" height="117" fill="#c0c0c0"/><rect x="869" y="599" width="1" height="121" fill="#c0c0c0"/><rect x="877" y="597" width="1" height="123" fill="#c0c0c0"/><rect x="885" y="595" width="1" height="125" fill="#c0c0c0"/><rect x="893" y="598" width="1" height="122" fill="#c0c0c0"/><rect x="901" y="602" width="1" height="118" fill="#c0c0c0"/><rect x="909" y="603" width="1" height="117" fill="#c0c0c0"/><rect x="917" y="608" width="1" height="112" fill="#c0c0c0"/><rect x="925" y="617" width="1" height="103" fill="#c0c0c0"/><rect x="933" y="628" width="1" height="92" fill="#c0c0c0"/><rect x="941" y="637" width="1" height="83" fill="#c0c0c0"/><rect x="949" y="655" width="1" height="65" fill="#c0c0c0"/><rect x="957" y="671" width="1" height="49" fill="#c0c0c0"/><rect x="965" y="677" width="1" height="43" fill="#c0c0c0"/><rect x="973" y="675" width="1" height="45" fill="#c0c0c0"/><rect x="981" y="673" width="1" height="47" fill="#c0c0c0"/><rect x="989" y="672" width="1" height="48" fill="#c0c0c0"/><rect x="997" y="670" width="1" height="50" fill="#c0c0c0"/><rect x="1005" y="663" width="1" height="57" fill="#c0c0c0"/><rect x="1013" y="656" width="1" height="64" fill="#c0c0c0"/><rect x="1021" y="651" width="1" height="69" fill="#c0c0c0"/><rect x="1029" y="646" width="1" height="74" fill="#c0c0c0"/><rect x="1037" y="652" width="1" height="68" fill="#c0c0c0"/><rect x="1045" y="663" width="1" height="57" fill="#c0c0c0"/><rect x="1053" y="677" width="1" height="43" fill="#c0c0c0"/><rect x="1061" y="687" width="1" height="33" fill="#c0c0c0"/><rect x="1069" y="696" width="1" height="24" fill="#c0c0c0"/><rect x="1077" y="702" width="1" height="18" fill="#c0c0c0"/><rect x="1085" y="711" width="1" height="9" fill="#c0c0c0"/><rect x="1093" y="717" width="1" height="3" fill="#c0c0c0"/><rect x="1101" y="719" width="1" height="2" fill="#c0c0c0"/><rect x="1109" y="719" width="1" height="4" fill="#c0c0c0"/><rect x="1117" y="719" width="1" height="6" fill="#c0c0c0"/><rect x="1133" y="719" width="1" height="2" fill="#c0c0c0"/><rect x="1141" y="718" width="1" height="2" fill="#c0c0c0"/><rect x="1149" y="719" width="1" height="9" fill="#c0c0c0"/><rect x="1157" y="719" width="1" height="13" fill="#c0c0c0"/><rect x="1165" y="719" width="1" height="17" fill="#c0c0c0"/><rect x="1173" y="719" width="1" height="15" fill="#c0c0c0"/><rect x="1181" y="719" width="1" height="8" fill="#c0c0c0"/><rect x="1189" y="719" width="1" height="2" fill="#c0c0c0"/><rect x="1197" y="712" width="1" height="8" fill="#c0c0c0"/><rect x="1205" y="711" width="1" height="9" fill="#c0c0c0"/><rect x="1213" y="711" width="1" height="9" fill="#c0c0c0"/><rect x="1221" y="706" width="1" height="14" fill="#c0c0c0"/><rect x="1229" y="702" width="1" height="18" fill="#c0c0c0"/><rect x="1237" y="698" width="1" height="22" fill="#c0c0c0"/><rect x="1245" y="698" width="1" height="22" fill="#c0c0c0"/><rect x="1253" y="695" width="1" height="25" fill="#c0c0c0"/><rect x="1261" y="690" width="1" height="30" fill="#c0c0c0"/><rect x="1269" y="678" width="1" height="42" fill="#c0c0c0"/><rect x="1277" y="670" width="1" height="50" fill="#c0c0c0"/><rect x="1285" y="661" width="1" height="59" fill="#c0c0c0"/><rect x="1293" y="657" width="1" height="63" fill="#c0c0c0"/><rect x="1301" y="653" width="1" height="67" fill="#c0c0c0"/><rect x="1309" y="649" width="1" height="71" fill="#c0c0c0"/><rect x="1317" y="645" width="1" height="75" fill="#c0c0c0"/><rect x="1325" y="645" width="1" height="75" fill="#c0c0c0"/><rect x="1333" y="646" width="1" height="74" fill="#c0c0c0"/><rect x="1341" y="648" width="1" height="72" fill="#c0c0c0"/><rect x="1349" y="649" width="1" height="71" fill="#c0c0c0"/><rect x="1357" y="653" width="1" height="67" fill="#c0c0c0"/><rect x="1365" y="657" width="1" height="63" fill="#c0c0c0"/><rect x="1373" y="662" width="1" height="58" fill="#c0c0c0"/><rect x="1381" y="665" width="1" height="55" fill="#c0c0c0"/><rect x="1389" y="656" width="1" height="64" fill="#c0c0c0"/><rect x="1397" y="651" width="1" height="69" fill="#c0c0c0"/><rect x="1405" y="650" width="1" height="70" fill="#c0c0c0"/><rect x="1413" y="646" width="1" height="74" fill="#c0c0c0"/><rect x="1421" y="651" width="1" height="69" fill="#c0c0c0"/><rect x="1429" y="653" width="1" height="67" fill="#c0c0c0"/><polyline points="3,729 12.1,732.6 22.2,734.2 35.4,737.1 46.5,735 53.6,730.6 69.8,716.4 84.9,705.3 101.1,692.2 113.2,684.1 125.4,682.7 141.5,682.3 159.7,680.5 182,677 202.2,673.4 214.3,670.5 230.5,670.3 246.7,671.4 261.8,673 273,678 287.1,684.7 303.3,692.8 315.4,694.6 323.5,698.7 335.6,700.7 350,701.5 364.2,698.2 382.3,697.6 398.5,694.8 412.7,689.1 424.8,686.7 447,685.5 465.2,682.7 485.5,681.5 497.6,678 532,676.6 566.3,677.4 584.5,675 598.7,671 612.8,666.9 633,661.9 653.3,653.2 665.4,650.1 681.6,647.7 700,642.2 714.2,638 732.3,631.5 742.5,624.4 760.7,614.3 774.8,606.3 789,601.2 803.1,599.2 821.3,599.2 839.5,601.6 851.6,604.2 877.9,603.2 894.1,600.8 920.4,600.6 934.5,604.2 942.6,609.3 958.8,624.4 981,647.7 997.2,661.4 1009.3,665.9 1019.5,667.5 1031.6,663.9 1041.7,660.4 1052.3,660.4 1063.9,662.7 1075.4,668.5 1089.3,677.7 1100.8,689.3 1112.4,702 1123.9,710.1 1137.8,715.9 1151.7,721.2 1165.5,725.1 1174.8,726.7 1193.3,726.3 1211.8,723.5 1227.9,718.2 1239.5,710.1 1258,703.2 1274.1,695.5 1290.3,683.5 1308.8,672 1318.1,666.2 1331.9,655.8 1341.2,651.2 1352.7,649.6 1368.9,648.4 1378.1,651.2 1396.6,653 1429,653.5" fill="none" stroke="#ff0000" stroke-width="1" stroke-dasharray="3 3"/></g><g clip-path="url(#cr)" shape-rendering="crispEdges"><line x1="0" y1="790.5" x2="1684" y2="790.5" stroke="#c0c0c0" stroke-width="1" stroke-dasharray="3 3" stroke-dashoffset="2"/><line x1="0" y1="841.5" x2="1684" y2="841.5" stroke="#c0c0c0" stroke-width="1" stroke-dasharray="3 3" stroke-dashoffset="2"/><line x1="0" y1="902.5" x2="1684" y2="902.5" stroke="#c0c0c0" stroke-width="1" stroke-dasharray="3 3" stroke-dashoffset="2"/><polyline points="0,847.6 5.5,830 13.5,850.9 21.5,843.2 29.5,846.5 37.5,842.7 45.5,820.4 53.5,814 61.5,816 69.5,832.3 77.5,833.6 85.5,828.2 93.5,830 101.5,831.8 109.5,835.6 117.5,838.4 125.5,835.4 133.5,832.6 141.5,821.1 149.5,818.3 157.5,817.3 165.5,825.4 173.5,836.1 181.5,832.1 189.5,828.2 197.5,820.4 205.5,825.4 213.5,825.4 221.5,822.1 229.5,823.9 237.5,838.2 245.5,834.3 253.5,832.3 261.5,843.2 269.5,855.2 277.5,844 285.5,842 293.5,833.1 301.5,829.3 309.5,826.5 317.5,833.1 325.5,844 333.5,840.2 341.5,843.2 349.5,830 357.5,825.4 365.5,824.2 373.5,835.1 381.5,834.3 389.5,826 397.5,820.9 405.5,819.3 413.5,837.4 421.5,837.4 429.5,831.8 437.5,827.5 445.5,826.2 453.5,830 461.5,828 469.5,818.3 477.5,819.3 485.5,815 493.5,833.3 501.5,833.3 509.5,835.1 517.5,824.4 525.5,828.2 533.5,822.4 541.5,822.1 549.5,823.2 557.5,825.4 565.5,819.6 573.5,819.3 581.5,809.9 589.5,806.4 597.5,808.2 605.5,808.2 613.5,808.2 621.5,812.2 629.5,800.3 637.5,797.5 645.5,796.5 653.5,800.8 661.5,805.4 669.5,803.3 677.5,803.3 685.5,796.7 693.5,793.2 701.5,786 709.5,782.2 717.5,797.2 725.5,791.4 733.5,790.1 741.5,788.3 749.5,796.5 757.5,790.4 765.5,784.5 773.5,802.8 781.5,807.1 789.5,806.4 797.5,806.4 805.5,805.4 813.5,804.3 821.5,797.5 829.5,797.5 837.5,796.2 845.5,792.9 853.5,791.1 861.5,789.1 869.5,784.3 877.5,785.3 885.5,784.3 893.5,793.2 901.5,796.5 909.5,791.1 917.5,805.4 925.5,819.3 933.5,827.2 941.5,826.5 949.5,852.1 957.5,854.2 965.5,836.9 973.5,825.4 981.5,823.2 989.5,825.4 997.5,820.9 1005.5,812 1013.5,810.4 1021.5,808.9 1029.5,806.9 1037.5,832.3 1045.5,842 1053.5,850.4 1061.5,847.6 1069.5,847.3 1077.5,847.3 1085.5,854.2 1093.5,851.1 1101.5,854.2 1109.5,843.2 1117.5,847.3 1125.5,833.3 1133.5,841.2 1141.5,843.2 1149.5,856.2 1157.5,851.1 1165.5,853.4 1173.5,842.5 1181.5,832.1 1189.5,830 1197.5,825.4 1205.5,838.7 1213.5,837.1 1221.5,830 1229.5,828 1237.5,827.2 1245.5,833.1 1253.5,827.2 1261.5,823.2 1269.5,810.2 1277.5,812.5 1285.5,808.2 1293.5,815 1301.5,811.5 1309.5,811.5 1317.5,808.2 1325.5,809.9 1333.5,817.6 1341.5,814 1349.5,819.1 1357.5,822.1 1365.5,821.1 1373.5,826.7 1381.5,822.9 1389.5,802.1 1397.5,805.1 1405.5,805.1 1413.5,807.1 1421.5,824.2 1429.5,820.4" fill="none" stroke="#1e90ff" stroke-width="1" /></g><rect x="1295" y="70" width="211" height="5" fill="#00ff00" shape-rendering="crispEdges"/><line x1="1147" y1="218.5" x2="1472" y2="58.4" stroke="#ff0000" stroke-width="3" shape-rendering="crispEdges"/><polygon points="1481.3,53.8 1472.3,63.5 1468.1,55.1" fill="#ff0000"/><line x1="1301" y1="644.2" x2="1404" y2="645.9" stroke="#ff0000" stroke-width="3" shape-rendering="crispEdges"/><polygon points="1413,646 1401.9,650.8 1402.1,640.8" fill="#ff0000"/><line x1="1278" y1="803" x2="1424.5" y2="811" stroke="#ff0000" stroke-width="3" shape-rendering="crispEdges"/><polygon points="1433.5,811.5 1422.2,815.9 1422.8,805.9" fill="#ff0000"/><g font-family="Liberation Sans, sans-serif"><rect x="1142" y="70" width="11" height="1" fill="#ff0000"/><rect x="1153.5" y="58.5" width="72" height="24" fill="#fff" stroke="#ff0000" stroke-width="1" shape-rendering="crispEdges"/><text x="1351.7" y="78.4" font-size="22" fill="#ff0000" text-anchor="middle" transform="scale(0.88,1)">155.412</text><rect x="1326.5" y="44.5" width="61" height="18" fill="#fff" stroke="#ff0000" stroke-width="1" shape-rendering="crispEdges"/><text x="1420.9" y="59.4" font-size="16.5" fill="#ff0000" text-anchor="middle" transform="scale(0.955,1)">156.087</text><rect x="1254.5" y="75.5" width="61" height="17" fill="#fff" stroke="#ff0000" stroke-width="1" shape-rendering="crispEdges"/><text x="1345.5" y="89.9" font-size="16.5" fill="#ff0000" text-anchor="middle" transform="scale(0.955,1)">154.845</text><rect x="1316" y="83" width="10" height="1" fill="#ff0000"/><rect x="966.5" y="110.5" width="61" height="18" fill="#fff" stroke="#ff0000" stroke-width="1" shape-rendering="crispEdges"/><text x="1044" y="125.4" font-size="16.5" fill="#ff0000" text-anchor="middle" transform="scale(0.955,1)">153.361</text><rect x="1028" y="119" width="10" height="1" fill="#ff0000"/><rect x="886.5" y="228.5" width="61" height="18" fill="#fff" stroke="#ff0000" stroke-width="1" shape-rendering="crispEdges"/><text x="960.2" y="243.4" font-size="16.5" fill="#ff0000" text-anchor="middle" transform="scale(0.955,1)">148.481</text><rect x="948" y="237" width="10" height="1" fill="#ff0000"/></g><rect x="1510.5" y="78.5" width="110" height="24" fill="#fff" stroke="#404040" stroke-width="1" shape-rendering="crispEdges"/><rect x="1511" y="102" width="110" height="1" fill="#c8b432" shape-rendering="crispEdges"/><text x="1512" y="97.600" font-size="21.400" fill="#0cf00c" textLength="106.500" lengthAdjust="spacingAndGlyphs" font-family="'Liberation Serif','Noto Serif CJK SC',serif">多空转折点</text><rect x="1563.5" y="76.5" width="2" height="2" fill="#fff" stroke="#00e000" stroke-width="1" shape-rendering="crispEdges"/><polygon points="1442,28 1452,28 1447,33" fill="#c0c0c0"/><g shape-rendering="crispEdges"><rect x="0" y="27" width="1685" height="1" fill="#000"/><rect x="1684" y="27" width="1" height="902" fill="#000"/><rect x="0" y="580" width="1685" height="1" fill="#000"/><rect x="0" y="582" width="1685" height="1" fill="#000"/><rect x="0" y="752" width="1685" height="1" fill="#000"/><rect x="0" y="754" width="1685" height="1" fill="#000"/><rect x="0" y="928" width="1685" height="1" fill="#000"/><rect x="-3" y="929" width="1" height="3" fill="#000"/><rect x="61" y="929" width="1" height="3" fill="#000"/><rect x="125" y="929" width="1" height="3" fill="#000"/><rect x="189" y="929" width="1" height="3" fill="#000"/><rect x="253" y="929" width="1" height="3" fill="#000"/><rect x="317" y="929" width="1" height="3" fill="#000"/><rect x="381" y="929" width="1" height="3" fill="#000"/><rect x="445" y="929" width="1" height="3" fill="#000"/><rect x="509" y="929" width="1" height="3" fill="#000"/><rect x="573" y="929" width="1" height="3" fill="#000"/><rect x="637" y="929" width="1" height="3" fill="#000"/><rect x="701" y="929" width="1" height="3" fill="#000"/><rect x="765" y="929" width="1" height="3" fill="#000"/><rect x="829" y="929" width="1" height="3" fill="#000"/><rect x="893" y="929" width="1" height="3" fill="#000"/><rect x="957" y="929" width="1" height="3" fill="#000"/><rect x="1021" y="929" width="1" height="3" fill="#000"/><rect x="1085" y="929" width="1" height="3" fill="#000"/><rect x="1149" y="929" width="1" height="3" fill="#000"/><rect x="1213" y="929" width="1" height="3" fill="#000"/><rect x="1277" y="929" width="1" height="3" fill="#000"/><rect x="1341" y="929" width="1" height="3" fill="#000"/><rect x="1405" y="929" width="1" height="3" fill="#000"/><rect x="1685" y="148" width="2" height="1" fill="#000"/><rect x="1685" y="181" width="2" height="1" fill="#000"/><rect x="1685" y="214" width="2" height="1" fill="#000"/><rect x="1685" y="247" width="2" height="1" fill="#000"/><rect x="1685" y="280" width="2" height="1" fill="#000"/><rect x="1685" y="313" width="2" height="1" fill="#000"/><rect x="1685" y="346" width="2" height="1" fill="#000"/><rect x="1685" y="379" width="2" height="1" fill="#000"/><rect x="1685" y="412" width="2" height="1" fill="#000"/><rect x="1685" y="445" width="2" height="1" fill="#000"/><rect x="1685" y="478" width="2" height="1" fill="#000"/><rect x="1685" y="511" width="2" height="1" fill="#000"/><rect x="1685" y="544" width="2" height="1" fill="#000"/><rect x="1685" y="577" width="2" height="1" fill="#000"/><rect x="1685" y="49" width="2" height="1" fill="#000"/><rect x="1685" y="82" width="2" height="1" fill="#000"/><rect x="1685" y="115" width="2" height="1" fill="#000"/><rect x="1685" y="719" width="2" height="1" fill="#000"/><rect x="1685" y="790" width="2" height="1" fill="#000"/><rect x="1685" y="841" width="2" height="1" fill="#000"/><rect x="1685" y="902" width="2" height="1" fill="#000"/><rect x="1730" y="25" width="1" height="920" fill="#c4c4c4"/><rect x="1684" y="581" width="1" height="1" fill="#fff"/><rect x="1684" y="753" width="1" height="1" fill="#fff"/><rect x="1685" y="584" width="1" height="1" fill="#000"/></g><g font-family="Liberation Sans, sans-serif" font-size="9.6" fill="#000" word-spacing="1.3"><text transform="translate(1690.3 152) scale(0.958 1)">152.160</text><text transform="translate(1690.3 185) scale(0.958 1)">150.800</text><text transform="translate(1690.3 218) scale(0.958 1)">149.440</text><text transform="translate(1690.3 251) scale(0.958 1)">148.080</text><text transform="translate(1690.3 284) scale(0.958 1)">146.720</text><text transform="translate(1690.3 317) scale(0.958 1)">145.360</text><text transform="translate(1690.3 350) scale(0.958 1)">144.000</text><text transform="translate(1690.3 383) scale(0.958 1)">142.600</text><text transform="translate(1690.3 416) scale(0.958 1)">141.240</text><text transform="translate(1690.3 449) scale(0.958 1)">139.880</text><text transform="translate(1690.3 482) scale(0.958 1)">138.520</text><text transform="translate(1690.3 515) scale(0.958 1)">137.160</text><text transform="translate(1690.3 548) scale(0.958 1)">135.800</text><text transform="translate(1690.3 581) scale(0.958 1)">134.440</text><text transform="translate(1690.3 53) scale(0.958 1)">156.280</text><text transform="translate(1690.3 119) scale(0.958 1)">153.560</text><text transform="translate(1690.3 86) scale(0.958 1)">154.920</text><rect x="1686" y="69" width="41" height="11" fill="#000" shape-rendering="crispEdges"/><text transform="translate(1690.3 78) scale(0.958 1)" fill="#fff">155.256</text><rect x="1686" y="30" width="41" height="11" fill="#ff0000" shape-rendering="crispEdges"/><text transform="translate(1690.3 39) scale(0.958 1)" fill="#fff">156.812</text><rect x="1686" y="47" width="41" height="11" fill="#ff0000" shape-rendering="crispEdges"/><text transform="translate(1690.3 56) scale(0.958 1)" fill="#fff">156.087</text><rect x="1686" y="64" width="41" height="11" fill="#32cd32" shape-rendering="crispEdges"/><text transform="translate(1690.3 73) scale(0.958 1)" fill="#fff">155.412</text><rect x="1686" y="96" width="41" height="11" fill="#0000ff" shape-rendering="crispEdges"/><text transform="translate(1690.3 105) scale(0.958 1)" fill="#fff">154.063</text><rect x="1686" y="113" width="41" height="11" fill="#0000ff" shape-rendering="crispEdges"/><text transform="translate(1690.3 122) scale(0.958 1)" fill="#fff">153.361</text><text transform="translate(1688 593.3) scale(0.958 1)">1.7526</text><text transform="translate(1689 723) scale(0.958 1)">0.00</text><text transform="translate(1688 749) scale(0.958 1)">-0.4212</text><text transform="translate(1688 765.3) scale(0.958 1)">100</text><text transform="translate(1688 794) scale(0.958 1)">80</text><text transform="translate(1688 845) scale(0.958 1)">50</text><text transform="translate(1688 906) scale(0.958 1)">15</text><text transform="translate(1688 925) scale(0.958 1)">0</text><text transform="translate(1 595.3) scale(0.958 1)">MACD(12,26,9) 0.8622 0.8516</text><text transform="translate(1 767.3) scale(0.958 1)">RSI(14) 62.4705</text><text x="12.5" y="39" textLength="62.4" lengthAdjust="spacingAndGlyphs">GBPJPY.,Daily</text><text x="81.5" y="39" textLength="140.3" lengthAdjust="spacingAndGlyphs">154.977 155.486 154.946 155.256</text><polygon points="0,38 7.4,38 3.7,33.3" fill="#000"/><text transform="translate(-3.7 941.3) scale(0.958 1)">2 Nov 2020</text><text transform="translate(60.3 941.3) scale(0.958 1)">11 Nov 2020</text><text transform="translate(124.3 941.3) scale(0.958 1)">20 Nov 2020</text><text transform="translate(188.3 941.3) scale(0.958 1)">30 Nov 2020</text><text transform="translate(252.3 941.3) scale(0.958 1)">9 Dec 2020</text><text transform="translate(316.3 941.3) scale(0.958 1)">18 Dec 2020</text><text transform="translate(380.3 941.3) scale(0.958 1)">29 Dec 2020</text><text transform="translate(444.3 941.3) scale(0.958 1)">8 Jan 2021</text><text transform="translate(508.3 941.3) scale(0.958 1)">18 Jan 2021</text><text transform="translate(572.3 941.3) scale(0.958 1)">27 Jan 2021</text><text transform="translate(636.3 941.3) scale(0.958 1)">5 Feb 2021</text><text transform="translate(700.3 941.3) scale(0.958 1)">15 Feb 2021</text><text transform="translate(764.3 941.3) scale(0.958 1)">24 Feb 2021</text><text transform="translate(828.3 941.3) scale(0.958 1)">5 Mar 2021</text><text transform="translate(892.3 941.3) scale(0.958 1)">15 Mar 2021</text><text transform="translate(956.3 941.3) scale(0.958 1)">24 Mar 2021</text><text transform="translate(1020.3 941.3) scale(0.958 1)">4 Apr 2021</text><text transform="translate(1084.3 941.3) scale(0.958 1)">13 Apr 2021</text><text transform="translate(1148.3 941.3) scale(0.958 1)">22 Apr 2021</text><text transform="translate(1212.3 941.3) scale(0.958 1)">2 May 2021</text><text transform="translate(1276.3 941.3) scale(0.958 1)">11 May 2021</text><text transform="translate(1340.3 941.3) scale(0.958 1)">20 May 2021</text><text transform="translate(1404.3 941.3) scale(0.958 1)">30 May 2021</text></g></svg>
<svg width="222" height="60" viewBox="0 45 222 60" style="position:absolute;left:0;top:45px" font-family="Liberation Sans, sans-serif">
<defs>
<linearGradient id="gT" gradientUnits="userSpaceOnUse" x1="0" y1="47" x2="0" y2="71"><stop offset="0" stop-color="#fa5050"/><stop offset="1" stop-color="#df3030"/></linearGradient>
<linearGradient id="gB" gradientUnits="userSpaceOnUse" x1="0" y1="71" x2="0" y2="104"><stop offset="0" stop-color="#de2e2e"/><stop offset=".55" stop-color="#c61414"/><stop offset="1" stop-color="#ae0000"/></linearGradient>
<linearGradient id="gS" gradientUnits="userSpaceOnUse" x1="0" y1="48" x2="0" y2="68"><stop offset="0" stop-color="#f6f6f6"/><stop offset=".5" stop-color="#e6e6e6"/><stop offset=".52" stop-color="#d6d6d6"/><stop offset="1" stop-color="#dcdcdc"/></linearGradient>
</defs>
<rect x="0" y="47" width="220" height="57" fill="#fff"/>
<!-- sell -->
<rect x="0" y="47" width="52" height="25" fill="#c00000"/>
<rect x="1" y="48" width="50" height="24" fill="url(#gT)"/>
<rect x="0" y="71" width="109" height="33" fill="url(#gB)"/>
<rect x="0" y="71" width="1" height="33" fill="#b40000"/>
<rect x="108" y="71" width="1" height="33" fill="#b40000"/>
<rect x="52" y="71" width="57" height="1" fill="#c00000"/>
<rect x="4" y="70" width="44" height="1" fill="#b40000"/>
<rect x="4" y="71" width="44" height="1" fill="#f59090"/>
<text x="30.600" y="63.300" font-size="12.600" fill="#fff" text-anchor="middle" transform="translate(25.500,0) scale(.84,1) translate(-30.400,0)">SELL</text>
<text x="23.300" y="98.800" font-size="12.200" font-weight="bold" fill="#fff" textLength="20" lengthAdjust="spacingAndGlyphs">155</text>
<text x="47" y="99" font-size="34.200" fill="#fff" stroke="url(#gB)" stroke-width=".6" textLength="35" lengthAdjust="spacingAndGlyphs">25</text>
<text x="87" y="82.800" font-size="11.600" font-weight="bold" fill="#fff">6</text>
<!-- buy -->
<rect x="167" y="47" width="53" height="25" fill="#c00000"/>
<rect x="168" y="48" width="51" height="24" fill="url(#gT)"/>
<rect x="111" y="71" width="109" height="33" fill="url(#gB)"/>
<rect x="111" y="71" width="1" height="33" fill="#b40000"/>
<rect x="219" y="71" width="1" height="33" fill="#b40000"/>
<rect x="111" y="71" width="57" height="1" fill="#c00000"/>
<rect x="171" y="70" width="44" height="1" fill="#b40000"/>
<rect x="171" y="71" width="44" height="1" fill="#f59090"/>
<text x="192.500" y="63" font-size="12.600" fill="#fff" text-anchor="middle" transform="translate(192.500,0) scale(.95,1) translate(-192.500,0)">BUY</text>
<text x="133.300" y="98.800" font-size="12.200" font-weight="bold" fill="#fff" textLength="20" lengthAdjust="spacingAndGlyphs">155</text>
<text x="158" y="99" font-size="34.200" fill="#fff" stroke="url(#gB)" stroke-width=".6" textLength="35" lengthAdjust="spacingAndGlyphs">30</text>
<text x="198" y="82.800" font-size="11.600" font-weight="bold" fill="#fff">5</text>
<!-- volume -->
<rect x="54.500" y="47.500" width="110" height="21" fill="#fff" stroke="#a7b0c0"/>
<rect x="55.500" y="48.500" width="19" height="19" fill="url(#gS)"/>
<rect x="75" y="48" width="1" height="20" fill="#b4b9c4"/>
<rect x="144.500" y="48.500" width="19" height="19" fill="url(#gS)"/>
<rect x="143" y="48" width="1" height="20" fill="#b4b9c4"/>
<path d="M61.700 56.300h5.600l-2.800 3.300z" fill="#4a62be"/>
<path d="M150.700 59.200h5.600l-2.800-3.300z" fill="#4a62be"/>
<text x="139.800" y="62.200" font-size="12.600" fill="#222" text-anchor="end">1.00</text>
</svg>

<div style="position:absolute;left:0;top:0;width:1731px;height:27px;background:#fff;">
<div style="position:absolute;left:0;top:0;width:1731px;height:22px;background:#f0f0f0;"></div>
<div style="position:absolute;left:0;top:22px;width:1731px;height:1px;background:#d4d4d4;"></div>
<div style="position:absolute;left:0;top:23px;width:1731px;height:1px;background:#a0a0a0;"></div>
<div style="position:absolute;left:0;top:24px;width:1731px;height:1px;background:#6e6e6e;"></div>
<svg width="1731" height="25" viewBox="0 0 1731 25" style="position:absolute;left:0;top:0" font-family="Liberation Sans, sans-serif">
<!-- window icon (cut) -->
<rect x="-6" y="4.5" width="13" height="13" rx="1.5" fill="#fff" stroke="#3a7cc8" stroke-width="1.4"/>
<path d="M-4 8h9M-4 10.5h9M-4 13h9" stroke="#a8c4f0" stroke-width="1"/>
<!-- chart + magnifier -->
<rect x="20.500" y="3.500" width="12" height="12" fill="#f4efe6" stroke="#b8ae98"/>
<path d="M23 7v6M26 5v7M30 6v5" stroke="#777" stroke-width="1"/>
<circle cx="27.500" cy="11" r="5" fill="#cfe0f7" fill-opacity=".85" stroke="#7aa2dc" stroke-width="1.300"/>
<path d="M31.500 15l5 5" stroke="#c9982a" stroke-width="2.600" stroke-linecap="round"/>
<rect x="45" y="1" width="1" height="20" fill="#a8a8a8"/>
<!-- new order -->
<path d="M55.500 3.500h8l3 3v10h-11z" fill="#fff" stroke="#6a6a6a"/>
<path d="M57.500 6h4M57.500 9h6M57.500 11.500h6" stroke="#888" stroke-width="1"/>
<path d="M65 9v12M59 15h12" stroke="#0f9a12" stroke-width="4.200"/>
<path d="M65 10.200v9.600M60.200 15h9.600" stroke="#3ee045" stroke-width="1.900"/>
<text x="73.500" y="14.600" font-size="12" fill="#000" font-family="'Liberation Sans','Noto Sans CJK SC',sans-serif">新订单</text>
<!-- book -->
<defs><linearGradient id="bk" x1="0" y1="0" x2="1" y2="1"><stop offset="0" stop-color="#f7dc6c"/><stop offset="1" stop-color="#d9a21e"/></linearGradient></defs><path d="M128.200 4l9.600 8-7.300 6.600L121.700 13z" fill="url(#bk)" stroke="#b98a1a" stroke-width=".9"/><path d="M121.900 13.700l8.400 5.200 7.300-6.400" stroke="#8a5f10" stroke-width="1.300" fill="none"/><path d="M122.500 12.600l8.200 4.800" stroke="#fff3b8" stroke-width=".8" fill="none"/>
<!-- cloud -->
<path d="M153 3h9l1.500 1.500v9h-10.500z" fill="#3d8fe4" stroke="#2a6fc0" stroke-width=".8"/>
<path d="M156 5.500h5M156 8h5" stroke="#cfe6ff" stroke-width="1.200"/>
<path d="M153.500 18.300a3 3 0 0 1 .8-5.800a3.800 3.800 0 0 1 7-.6a3 3 0 0 1 2.200 6.400z" fill="#eef3fa" stroke="#8797b5" stroke-width="1"/>
<!-- signal -->
<circle cx="186" cy="10.500" r="7.300" fill="none" stroke="#b9cdf0" stroke-width="1.300"/>
<circle cx="186" cy="10.500" r="4.600" fill="none" stroke="#6d95dd" stroke-width="1.400"/>
<path d="M186 10.500v8.500a8 8 0 0 0 7.500-8.500z" fill="#d9ecd6" stroke="#3aa336" stroke-width="1.200"/>
<circle cx="186" cy="10.300" r="1.900" fill="#2f62cc"/>
<!-- auto trading -->
<path d="M206 9h15l-6 9h-4z" fill="#f1d557" stroke="#c9a62a" stroke-width=".8"/>
<ellipse cx="213" cy="8.500" rx="8" ry="2.800" fill="#4b93d6" stroke="#2f6fb4" stroke-width=".7"/>
<path d="M208.500 8a4.500 4.500 0 0 1 9 0z" fill="#5aa3e2" stroke="#2f6fb4" stroke-width=".7"/>
<circle cx="218" cy="14.500" r="4" fill="#de2a16"/>
<rect x="216.400" y="12.900" width="3.200" height="3.200" fill="#fff"/>
<text x="226.300" y="14" font-size="12" fill="#000" font-family="'Liberation Sans','Noto Sans CJK SC',sans-serif">自动交易</text>
<rect x="281" y="1" width="1" height="20" fill="#a8a8a8"/>
<path d="M286.500 3v17" stroke="#a8a8a8" stroke-width="3" stroke-dasharray="1 1"/>
<!-- bar chart -->
<g stroke="#444" stroke-width="1" fill="none">
<path d="M299.500 5v14M297 16.500h13.500M298 7l1.500-2 1.500 2M308.800 15l2 1.500-2 1.500"/>
</g>
<path d="M306 7v7.500M306 7.500h2.500M303.500 13.500h2.500" stroke="#2a8a2a" stroke-width="1.300" fill="none"/>
<!-- candle (active) -->
<rect x="320.500" y="0.500" width="23" height="21" fill="#f7f7f7" stroke="#e4e4e4"/>
<rect x="319" y="0" width="1" height="22" fill="#b0b0b0"/>
<g stroke="#444" stroke-width="1" fill="none"><path d="M327.500 5v14M325 16.500h13.500M326 7l1.500-2 1.500 2M336.800 15l2 1.500-2 1.500"/></g>
<path d="M333.500 3.300v11.500" stroke="#187a18" stroke-width="1.200"/>
<rect x="331.500" y="5.700" width="4.300" height="6.600" fill="#2fd42f" stroke="#168a16" stroke-width=".9"/>
<!-- line chart -->
<g stroke="#444" stroke-width="1" fill="none"><path d="M355.500 5v14M353 16.500h13.500M354 7l1.500-2 1.500 2M364.800 15l2 1.500-2 1.500"/></g>
<path d="M354 13.700c2.500-2 4.500-5.500 6.700-5.500s3.500 2.500 5 4" stroke="#2a8a3a" stroke-width="1.300" fill="none"/>
<rect x="376" y="1" width="1" height="20" fill="#a8a8a8"/>
<!-- zoom in -->
<circle cx="391" cy="9" r="5.300" fill="#dbe9fb" stroke="#4a80d2" stroke-width="1.500"/>
<path d="M388 9h6M391 6v6" stroke="#2f62b8" stroke-width="1.400"/>
<path d="M395.500 13.500l5 5" stroke="#c9982a" stroke-width="2.600" stroke-linecap="round"/>
<!-- zoom out -->
<circle cx="419" cy="9" r="5.300" fill="#dbe9fb" stroke="#4a80d2" stroke-width="1.500"/>
<path d="M416 9h6" stroke="#2f62b8" stroke-width="1.400"/>
<path d="M423.500 13.500l5 5" stroke="#c9982a" stroke-width="2.600" stroke-linecap="round"/>
<!-- grid -->
<rect x="441" y="3.500" width="7.500" height="7" fill="#4fa82e" stroke="#3a8a1e" stroke-width=".6"/>
<rect x="449.300" y="3.500" width="7.500" height="7" fill="#2f62d0" stroke="#244cae" stroke-width=".6"/>
<rect x="441" y="11.300" width="7.500" height="7" fill="#2f62d0" stroke="#244cae" stroke-width=".6"/>
<rect x="449.300" y="11.300" width="7.500" height="7" fill="#4fa82e" stroke="#3a8a1e" stroke-width=".6"/>
<path d="M442.500 7.800h4.500M450.800 7.800h4.500M442.500 15.600h4.500M450.800 15.600h4.500" stroke="#fff" stroke-width="2.400" stroke-opacity=".9"/>
<rect x="467" y="1" width="1" height="20" fill="#a8a8a8"/>
<!-- autoscroll -->
<rect x="472.500" y="0.500" width="23" height="21" fill="#f7f7f7" stroke="#e4e4e4"/>
<rect x="471" y="0" width="1" height="22" fill="#b0b0b0"/>
<g stroke="#444" stroke-width="1" fill="none"><path d="M479.500 5v14M477 16.500h13.500M478 7l1.500-2 1.500 2M488.800 15l2 1.500-2 1.500"/></g>
<path d="M484.400 7.800l3.500 2.800-3.500 2.800z" fill="#c8f0c0" stroke="#25a025" stroke-width="1.100"/>
<!-- shift -->
<rect x="500.500" y="0.500" width="23" height="21" fill="#f7f7f7" stroke="#e4e4e4"/>
<rect x="499" y="0" width="1" height="22" fill="#b0b0b0"/>
<g stroke="#444" stroke-width="1" fill="none"><path d="M507.500 5v14M505 16.500h13.500M506 7l1.500-2 1.500 2M516.800 15l2 1.500-2 1.500"/></g>
<path d="M513.500 5v9.500" stroke="#2464c4" stroke-width="1.200"/>
<path d="M519 10.500h-4.500M516.800 8.500l-2.300 2 2.300 2" stroke="#d84010" stroke-width="1.200" fill="none"/>
<rect x="528" y="0" width="1" height="22" fill="#a8a8a8"/>
<!-- indicators -->
<path d="M538.500 3.500h7.500l3 3v9.500h-10.500z" fill="#fff" stroke="#6a6a6a"/>
<path d="M541 5.500v6M541 8h1.500" stroke="#888" fill="none"/>
<path d="M548.200 9v11.800M542.400 14.900h11.600" stroke="#0f9a12" stroke-width="4.200"/>
<path d="M548.200 10.200v9.400M543.600 14.900h9.200" stroke="#3ee045" stroke-width="1.900"/>
<path d="M560 10.200h5l-2.500 2.800z" fill="#111"/>
<!-- clock -->
<defs><linearGradient id="ck" x1="0" y1="0" x2="0" y2="1"><stop offset="0" stop-color="#3f86e6"/><stop offset="1" stop-color="#1a4fb0"/></linearGradient></defs>
<circle cx="584" cy="10.600" r="7.700" fill="url(#ck)"/>
<circle cx="584" cy="10.600" r="5.400" fill="#f2f6fc"/>
<path d="M584 7.200v3.600h2.800" stroke="#444" stroke-width="1.100" fill="none"/>
<path d="M599 10.200h5l-2.500 2.800z" fill="#111"/>
<!-- template -->
<rect x="615.500" y="4.500" width="15.500" height="13" fill="#f6f9ff" stroke="#3a6cc0" stroke-width="1"/>
<rect x="615" y="4" width="16.500" height="3" fill="#3f7ad8"/>
<path d="M617.500 10.200l2.500-.8 2 .4 2.500-1.400 2 .6 2.500-1" stroke="#b8401c" stroke-width="1.200" fill="none"/>
<path d="M617.500 15l2.500-1.200 2 .6 2.500-1.600 2 1.400 2.500-.6" stroke="#2a9a3a" stroke-width="1.200" fill="none"/>
<path d="M638 10.200h5l-2.500 2.800z" fill="#111"/>
<rect x="649" y="0" width="1" height="22" fill="#a8a8a8"/>
<path d="M654.200 3v17" stroke="#a8a8a8" stroke-width="3" stroke-dasharray="1 1"/>
<!-- cursor -->
<rect x="660.500" y="1.500" width="24" height="20" fill="#f8f8f8" stroke="#dcdcdc"/>
<path d="M667 4v12.500l3-3 2.300 5 1.700-.8-2.300-4.700h4z" fill="#222"/>
<!-- crosshair -->
<path d="M699.500 4v15M692 11.500h15" stroke="#333" stroke-width="1"/>
<rect x="716" y="1" width="1" height="20" fill="#a8a8a8"/>
<path d="M733.500 5v12" stroke="#333" stroke-width="1.200"/>
<path d="M755 11.500h13" stroke="#333" stroke-width="1"/>
<path d="M784 17l12.500-11" stroke="#333" stroke-width="1.200"/>
<!-- channel -->
<path d="M810 16l12-10M813 19l12-10M813 10v8M817 7v8M821 5v7" stroke="#444" stroke-width="1"/>
<text x="822" y="20" font-size="6.500" font-weight="bold" fill="#222">E</text>
<!-- fibo -->
<path d="M838 4.500h13M838 8.500h13M838 12.500h13M838 16.500h9" stroke="#555" stroke-width="1" stroke-dasharray="1 1"/>
<text x="849" y="20" font-size="6.500" font-weight="bold" fill="#222">F</text>
<!-- A, T -->
<text x="869.300" y="16" font-size="12.500" fill="#444" stroke="#444" stroke-width=".45">A</text>
<rect x="895.500" y="4.500" width="12" height="13" fill="none" stroke="#555" stroke-width="1" stroke-dasharray="1 1" shape-rendering="crispEdges"/>
<text x="897.600" y="16" font-size="11.500" font-weight="bold" fill="#444">T</text>
<!-- arrows -->
<path d="M924 7.500l3-3 3 3-3 3zM930 13.500l3-3 3 3-3 3z" fill="#444"/>
<path d="M925 12l4 4" stroke="#666" stroke-width="1"/>
<path d="M944 10h5l-2.500 3z" fill="#111"/>
<rect x="955" y="1" width="1" height="20" fill="#a8a8a8"/>
<path d="M960.500 3v17" stroke="#a8a8a8" stroke-width="3" stroke-dasharray="1 1"/>
<!-- timeframes -->
<rect x="1133.500" y="1.500" width="24" height="20" fill="#f6f6f6" stroke="#d8d8d8"/>
<rect x="1133" y="1" width="1" height="20" fill="#9a9a9a"/>
<g font-size="9.200" fill="#333">
<text x="970" y="14.400">M1</text><text x="998" y="14.400">M5</text><text x="1024.500" y="14.400">M15</text><text x="1052.500" y="14.400">M30</text>
<text x="1083" y="14.400">H1</text><text x="1110.500" y="14.400">H4</text><text x="1139" y="14.400">D1</text><text x="1167" y="14.400">W1</text><text x="1193.500" y="14.400">MN</text>
</g>
<rect x="1216" y="1" width="1" height="20" fill="#a8a8a8"/>
<!-- search -->
<circle cx="1687" cy="8" r="4.200" fill="#f4f8ff" stroke="#2f66c8" stroke-width="1.800"/>
<path d="M1684 11.500l-5 5" stroke="#2f66c8" stroke-width="2.400" stroke-linecap="round"/>
<!-- chat -->
<path d="M1703 12.300a5 4.300 0 0 1 10 0a5 4.300 0 0 1-5.500 4.200l-2.300 2.800v-3.400a4.300 4.300 0 0 1-2.200-3.600z" fill="#dde0ea" stroke="#a4a4a8" stroke-width="1"/>
<defs><linearGradient id="bg1" x1="0" y1="0" x2="0" y2="1"><stop offset="0" stop-color="#ec5a40"/><stop offset="1" stop-color="#c42c14"/></linearGradient></defs>
<circle cx="1717.400" cy="8.300" r="8.100" fill="url(#bg1)"/>
<text x="1713.600" y="13" font-size="12.500" fill="#fff">1</text>
</svg>
</div>

</body></html>
